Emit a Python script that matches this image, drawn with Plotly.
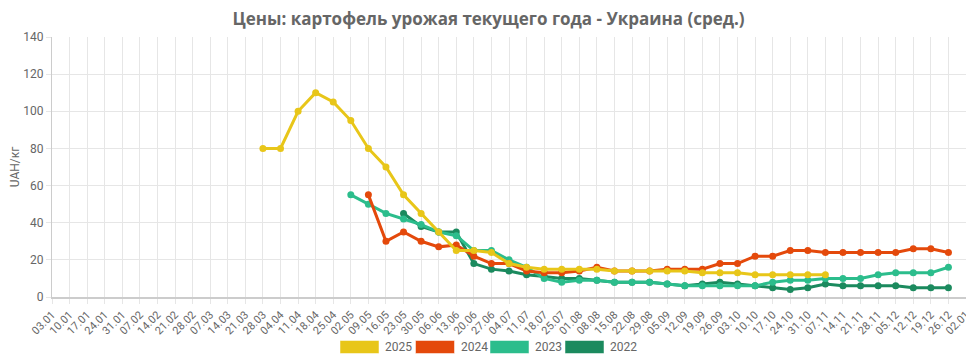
import plotly.graph_objects as go

dates = ["03.01", "10.01", "17.01", "24.01", "31.01", "07.02", "14.02", "21.02", "28.02",
         "07.03", "14.03", "21.03", "28.03", "04.04", "11.04", "18.04", "25.04", "02.05",
         "09.05", "16.05", "23.05", "30.05", "06.06", "13.06", "20.06", "27.06", "04.07",
         "11.07", "18.07", "25.07", "01.08", "08.08", "15.08", "22.08", "29.08", "05.09",
         "12.09", "19.09", "26.09", "03.10", "10.10", "17.10", "24.10", "31.10", "07.11",
         "14.11", "21.11", "28.11", "05.12", "12.12", "19.12", "26.12", "02.01"]

N = None
y2025 = [N] * 12 + [80, 80, 100, 110, 105, 95, 80, 70, 55, 45, 35, 25, 25, 24, 18, 16, 15, 15,
                    15, 15, 14, 14, 14, 14, 14, 13, 13, 13, 12, 12, 12, 12, 12] + [N] * 8
y2024 = [N] * 18 + [55, 30, 35, 30, 27, 28, 22, 18, 18, 14, 13, 13, 14, 16, 14, 14, 14, 15,
                    15, 15, 18, 18, 22, 22, 25, 25, 24, 24, 24, 24, 24, 26, 26, 24] + [N]
y2023 = [N] * 17 + [55, 50, 45, 42, 39, 35, 33, 25, 25, 20, 16, 10, 8, 9, 9, 8, 8, 8, 7,
                    6, 6, 6, 6, 6, 8, 9, 9, 10, 10, 10, 12, 13, 13, 13, 16] + [N]
y2022 = [N] * 20 + [45, 38, 35, 35, 18, 15, 14, 12, 11, 10, 10, 9, 8, 8, 8, 7, 6, 7, 8,
                    7, 6, 5, 4, 5, 7, 6, 6, 6, 6, 5, 5, 5] + [N]

series = [("2022", y2022, "#1b8a5e"), ("2023", y2023, "#2cbd8c"),
          ("2024", y2024, "#e4490b"), ("2025", y2025, "#e8c619")]

fig = go.Figure()
for name, ys, col in series:
    fig.add_trace(go.Scatter(x=dates, y=ys, name=name, mode="lines+markers",
                             line=dict(color=col, width=3), marker=dict(color=col, size=7),
                             connectgaps=False, showlegend=False))

# page has an 8px body margin: work in page coords, convert to figure coords
OFF = 8
FW, FH = 974 - OFF, 361 - OFF
L, R, T, B = 52 - OFF, 966 - OFF, 37 - OFF, 297 - OFF
PW, PH = R - L, B - T

# custom legend (boxes + labels) below the plot
legend_items = [("2025", "#e8c619"), ("2024", "#e4490b"), ("2023", "#2cbd8c"), ("2022", "#1b8a5e")]
x0s = [340, 415.5, 490, 565]
for (name, col), xp in zip(legend_items, x0s):
    x0 = xp - OFF
    fig.add_shape(type="rect", xref="paper", yref="paper",
                  x0=(x0 - L) / PW, x1=(x0 + 39 - L) / PW,
                  y0=(B - (353.5 - OFF)) / PH, y1=(B - (340.5 - OFF)) / PH,
                  fillcolor=col, line=dict(color="rgba(255,255,255,0.5)", width=1))
    fig.add_annotation(xref="paper", yref="paper", x=(x0 + 43 - L) / PW,
                       y=(B - (347 - OFF)) / PH, text=name, showarrow=False, xanchor="left",
                       yanchor="middle", font=dict(size=12, color="#666", family="Roboto"))

fig.update_layout(
    width=FW, height=FH,
    margin=dict(l=L, r=FW - R, t=T, b=FH - B, autoexpand=False),
    paper_bgcolor="white", plot_bgcolor="white",
    title=dict(text="<b>Цены: картофель урожая текущего года - Украина (сред.)</b>",
               x=(488.5 - OFF) / FW, xanchor="center", y=1 - (19.5 - OFF) / FH, yanchor="middle",
               font=dict(size=17, color="#666", family="Open Sans")),
    font=dict(family="Roboto", color="#666"),
    xaxis=dict(type="category", categoryorder="array", categoryarray=dates,
               range=[0, len(dates) - 1], tickangle=-45, tickfont=dict(size=11, color="#666"),
               showgrid=True, gridcolor="#e6e6e6", gridwidth=1, automargin=False,
               showline=True, linecolor="#cccccc", linewidth=2,
               ticks="outside", ticklen=5, tickcolor="#e6e6e6", zeroline=False),
    yaxis=dict(range=[0, 140], dtick=20, tickfont=dict(size=12, color="#666"), automargin=False,
               title=dict(text="UAH/кг", font=dict(size=12, color="#666"), standoff=10),
               showgrid=True, gridcolor="#e6e6e6", gridwidth=1,
               showline=True, linecolor="#cccccc", linewidth=1,
               ticks="outside", ticklen=5, tickcolor="#e6e6e6", zeroline=False),
)

fig.write_html("out.html")
